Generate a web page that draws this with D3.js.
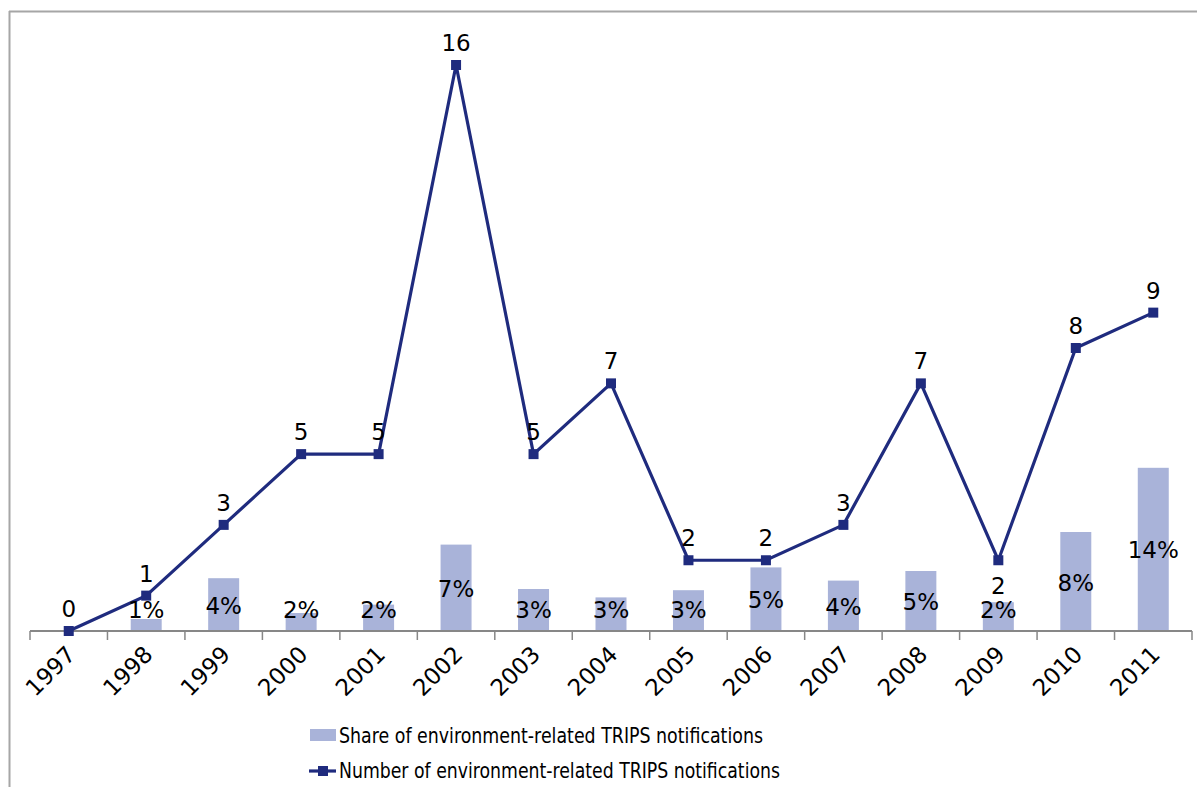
<!DOCTYPE html>
<html><head><meta charset="utf-8">
<script src="https://cdn.jsdelivr.net/npm/d3@7"></script>
<style>
html,body{margin:0;padding:0;background:#fff;}
svg{display:block;}
text{font-family:"DejaVu Sans",Verdana,sans-serif;fill:#000;}
</style></head>
<body>
<svg id="chart" width="1197" height="787"></svg>
<script>
const years = ["1997","1998","1999","2000","2001","2002","2003","2004","2005","2006","2007","2008","2009","2010","2011"];
const shareValues = [null,1.0,4.4,1.5,2.2,7.2,3.5,2.8,3.4,5.3,4.2,5.0,2.4,8.25,13.6];
const shareLabels = [null,"1%","4%","2%","2%","7%","3%","3%","3%","5%","4%","5%","2%","8%","14%"];
const countValues = [0,1,3,5,5,16,5,7,2,2,3,7,2,8,9];
const legendLabels = ["Share of environment-related TRIPS notifications","Number of environment-related TRIPS notifications"];

const barColor = "#A9B3D9", lineColor = "#1F2B7E", axisColor = "#878787";
const svg = d3.select("#chart");

// frame
svg.append("line").attr("x1",9.5).attr("x2",9.5).attr("y1",11).attr("y2",787).attr("stroke","#A6A6A6").attr("stroke-width",2);
svg.append("line").attr("x1",9).attr("x2",1197).attr("y1",11.5).attr("y2",11.5).attr("stroke","#A6A6A6").attr("stroke-width",2);

const x = d3.scaleBand().domain(years).range([30,1192]).padding(0);
const yCount = d3.scaleLinear().domain([0,16]).range([631,65]);
const yShare = d3.scaleLinear().domain([0,14]).range([631,631-168]);

const bw = x.bandwidth()*0.4;
const data = years.map((y,i)=>({year:y,share:shareValues[i],slab:shareLabels[i],count:countValues[i]}));

// bars
svg.append("g").selectAll("rect").data(data.filter(d=>d.share!=null)).join("rect")
  .attr("x",d=>x(d.year)+x.bandwidth()/2-bw/2)
  .attr("width",bw)
  .attr("y",d=>yShare(d.share))
  .attr("height",d=>yShare(0)-yShare(d.share))
  .attr("fill",barColor);

// axis
const axis = d3.axisBottom(x).tickSize(8).tickFormat("");
const gx = svg.append("g").attr("transform","translate(0,631)").call(axis);
gx.select(".domain").attr("stroke",axisColor).attr("stroke-width",2).attr("d","M30,0H1192");
gx.selectAll(".tick").remove();
const bounds = years.map(y=>x(y)).concat([x(years[years.length-1])+x.bandwidth()]);
gx.selectAll("line.tk").data(bounds).join("line").attr("class","tk")
  .attr("x1",d=>d).attr("x2",d=>d).attr("y1",0).attr("y2",9)
  .attr("stroke",axisColor).attr("stroke-width",1.5);

// year labels
svg.append("g").selectAll("text").data(years).join("text")
  .attr("transform",d=>`translate(${x(d)+x.bandwidth()/2+8},${656}) rotate(-45)`)
  .attr("text-anchor","end")
  .attr("font-size",23)
  .text(d=>d);

// line
const line = d3.line().x(d=>x(d.year)+x.bandwidth()/2).y(d=>yCount(d.count));
svg.append("path").datum(data).attr("d",line).attr("fill","none").attr("stroke",lineColor).attr("stroke-width",3.2).attr("stroke-linejoin","miter");
svg.append("g").selectAll("rect").data(data).join("rect")
  .attr("x",d=>x(d.year)+x.bandwidth()/2-5).attr("y",d=>yCount(d.count)-5)
  .attr("width",10).attr("height",10).attr("fill",lineColor);

// bar labels
svg.append("g").selectAll("text").data(data.filter(d=>d.share!=null)).join("text")
  .attr("x",d=>x(d.year)+x.bandwidth()/2)
  .attr("y",d=>Math.min((yShare(d.share)+yShare(0))/2, 609)+9)
  .attr("text-anchor","middle").attr("font-size",23)
  .text(d=>d.slab);

// count labels
svg.append("g").selectAll("text").data(data).join("text")
  .attr("x",d=>x(d.year)+x.bandwidth()/2)
  .attr("y",d=>d.year==="2009" ? yCount(d.count)+34 : yCount(d.count)-14)
  .attr("text-anchor","middle").attr("font-size",23)
  .text(d=>d.count);

// legend
const lg = svg.append("g");
lg.append("rect").attr("x",310).attr("y",729).attr("width",26).attr("height",12).attr("fill",barColor);
lg.append("text").attr("x",339).attr("y",743).attr("font-size",22).attr("textLength",424).attr("lengthAdjust","spacingAndGlyphs").text(legendLabels[0]);
lg.append("line").attr("x1",309).attr("x2",336).attr("y1",771).attr("y2",771).attr("stroke",lineColor).attr("stroke-width",3.2);
lg.append("rect").attr("x",318).attr("y",766).attr("width",10).attr("height",10).attr("fill",lineColor);
lg.append("text").attr("x",339).attr("y",778).attr("font-size",22).attr("textLength",441).attr("lengthAdjust","spacingAndGlyphs").text(legendLabels[1]);
</script>
</body></html>
